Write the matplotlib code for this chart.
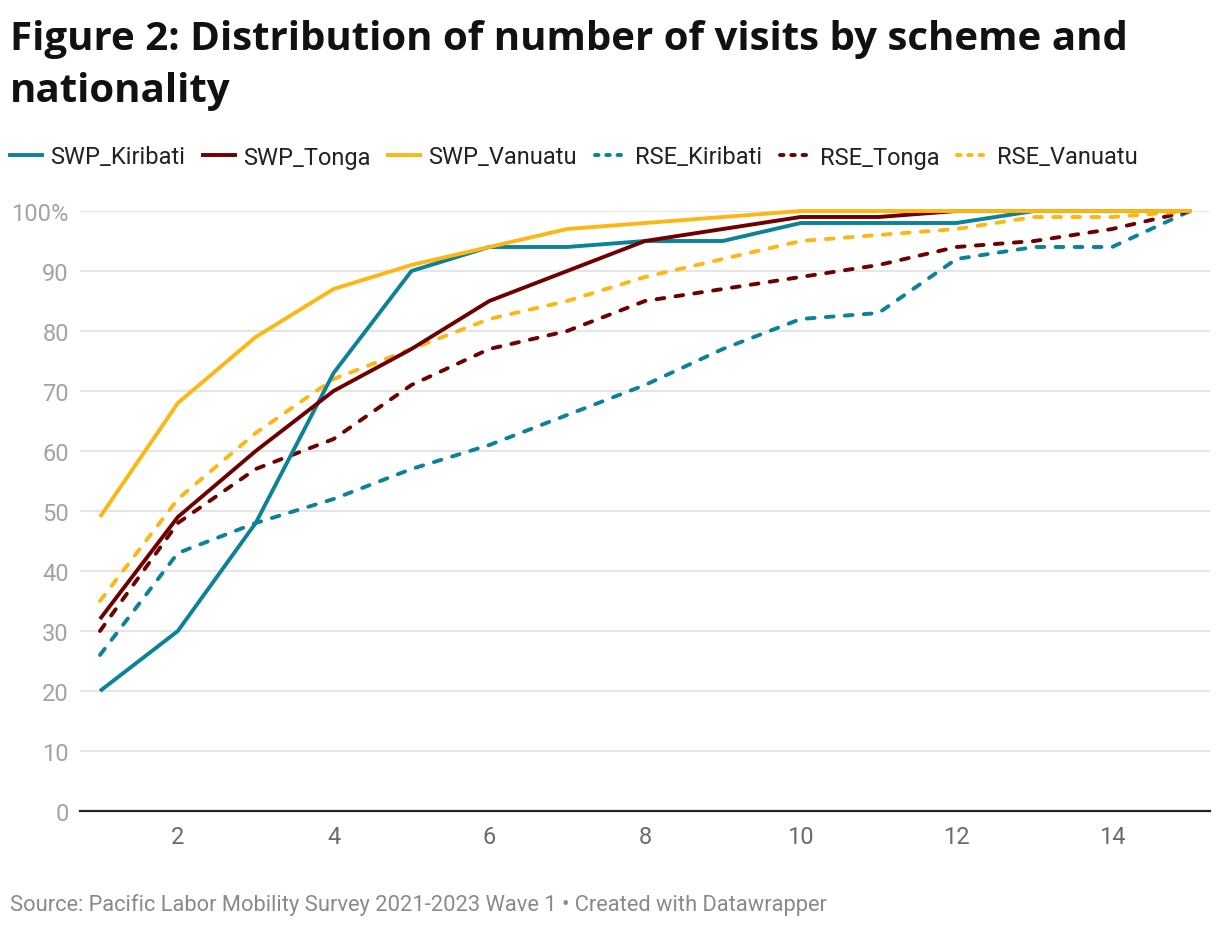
import matplotlib
matplotlib.use("Agg")
import matplotlib.pyplot as plt
from matplotlib.lines import Line2D

visits = list(range(1, 16))
swp_kiribati = [20, 30, 48, 73, 90, 94, 94, 95, 95, 98, 98, 98, 100, 100, 100]
swp_tonga = [32, 49, 60, 70, 77, 85, 90, 95, 97, 99, 99, 100, 100, 100, 100]
swp_vanuatu = [49, 68, 79, 87, 91, 94, 97, 98, 99, 100, 100, 100, 100, 100, 100]
rse_kiribati = [26, 43, 48, 52, 57, 61, 66, 71, 77, 82, 83, 92, 94, 94, 100]
rse_tonga = [30, 48, 57, 62, 71, 77, 80, 85, 87, 89, 91, 94, 95, 97, 100]
rse_vanuatu = [35, 52, 63, 72, 77, 82, 85, 89, 92, 95, 96, 97, 99, 99, 100]

series_names = ["SWP_Kiribati", "SWP_Tonga", "SWP_Vanuatu",
                "RSE_Kiribati", "RSE_Tonga", "RSE_Vanuatu"]
series_values = [swp_kiribati, swp_tonga, swp_vanuatu,
                 rse_kiribati, rse_tonga, rse_vanuatu]
series_colors = ["#0b8297", "#6e0000", "#fdb714",
                 "#0b8297", "#6e0000", "#fdb714"]
series_dashed = [False, False, False, True, True, True]

yticks = [0, 10, 20, 30, 40, 50, 60, 70, 80, 90, 100]
ytick_labels = ["0", "10", "20", "30", "40", "50", "60", "70", "80", "90", "100%"]
xticks = [2, 4, 6, 8, 10, 12, 14]

title = "Figure 2: Distribution of number of visits by scheme and\nnationality"
source = "Source: Pacific Labor Mobility Survey 2021-2023 Wave 1 \u2022 Created with Datawrapper"

W, H = 1220, 928
fig = plt.figure(figsize=(W / 100, H / 100), dpi=100)
ax = fig.add_axes([80 / W, 1 - 812 / H, (1210 - 80) / W, (812 - 212) / H])

lw = 2.8
order = [3, 4, 5, 0, 1, 2]
for i in order:
    kw = dict(color=series_colors[i], lw=lw, clip_on=False, zorder=3)
    if series_dashed[i]:
        ax.plot(visits, series_values[i], linestyle=(0, (2.0, 2.9)),
                dash_capstyle="round", dash_joinstyle="round", **kw)
    else:
        ax.plot(visits, series_values[i], solid_capstyle="butt",
                solid_joinstyle="round", **kw)

x_per = (1190 - 100) / 14
ax.set_xlim(1 - 20 / x_per, 15 + 20 / x_per)
ax.set_ylim(0, 100)

for s in ["top", "right", "left"]:
    ax.spines[s].set_visible(False)
ax.spines["bottom"].set_color("#222222")
ax.spines["bottom"].set_linewidth(1.6)
ax.spines["bottom"].set_zorder(4)

ax.set_yticks(yticks)
ax.set_yticklabels(ytick_labels, fontfamily="Roboto", fontsize=17, color="#a3a3a3")
ax.set_xticks(xticks)
ax.set_xticklabels([str(x) for x in xticks], fontfamily="Roboto", fontsize=17, color="#6b6b6b")
ax.tick_params(axis="y", length=0, pad=8)
ax.tick_params(axis="x", length=0, pad=10)
ax.grid(axis="y", color="#e3e3e3", lw=1.3, zorder=0)
ax.grid(axis="x", visible=False)
ax.set_axisbelow(True)

fig.text(10 / W, 1 - 20 / H, title, fontfamily=["Open Sans", "Noto Sans", "DejaVu Sans"],
         fontweight="bold", fontsize=29, color="#111111", va="top", ha="left",
         linespacing=1.42)

# legend
handles = []
for i in range(6):
    if series_dashed[i]:
        handles.append(Line2D([], [], color=series_colors[i], lw=lw,
                              linestyle=(0, (0.9, 2.0)), dash_capstyle="round"))
    else:
        handles.append(Line2D([], [], color=series_colors[i], lw=lw))
leg = fig.legend(handles, series_names, loc="center left",
                 bbox_to_anchor=(10 / W, 1 - 158 / H), ncol=6, frameon=False,
                 borderpad=0, borderaxespad=0,
                 handlelength=1.35, handletextpad=0.35, columnspacing=0.75,
                 prop={"family": "Roboto", "size": 17})
for t in leg.get_texts():
    t.set_color("#222222")

fig.text(10 / W, 1 - 905 / H, source, fontfamily="Roboto", fontsize=15.75,
         color="#8a8a8a", va="center", ha="left")

fig.savefig("out.png", dpi=100, facecolor="white")
